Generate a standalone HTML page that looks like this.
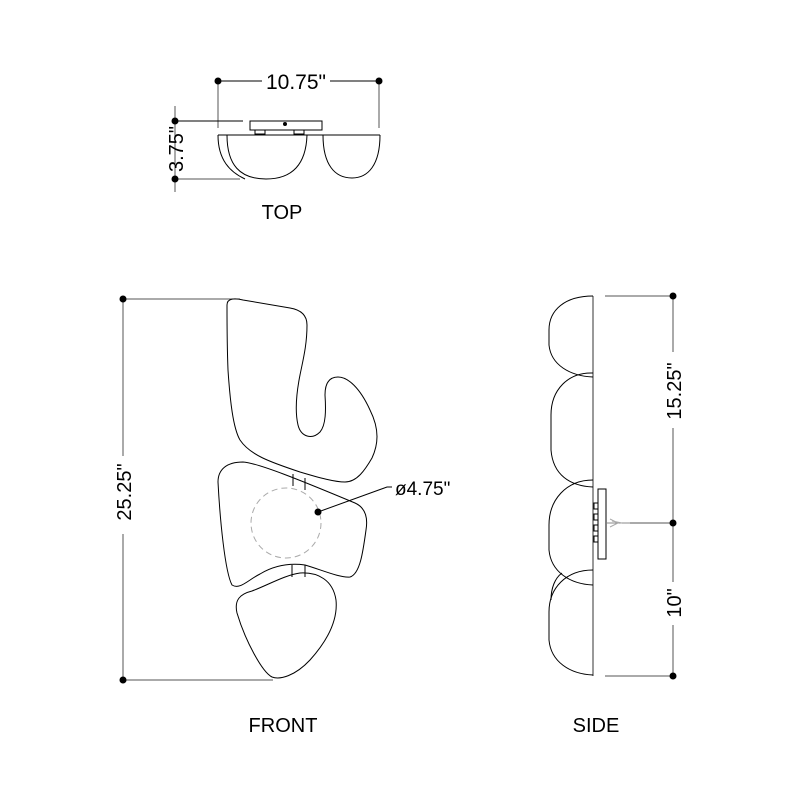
<!DOCTYPE html>
<html><head><meta charset="utf-8"><style>
html,body{margin:0;padding:0;background:#fff;}
svg{display:block;}
text{font-family:"Liberation Sans",sans-serif;fill:#000;}
</style></head><body>
<svg width="800" height="800" viewBox="0 0 800 800" xmlns="http://www.w3.org/2000/svg">
<g fill="none" stroke="#000" stroke-width="1">
<!-- TOP view -->
<line x1="218" y1="81" x2="262" y2="81"/><line x1="330" y1="81" x2="380" y2="81"/>
<line x1="218" y1="81" x2="218" y2="128" stroke="#555"/><line x1="379" y1="81" x2="379" y2="128" stroke="#555"/>
<line x1="175" y1="106" x2="175" y2="192" stroke="#555"/>
<line x1="175" y1="121" x2="243" y2="121"/><line x1="175" y1="179" x2="240" y2="179" stroke="#555"/>
<rect x="250" y="121" width="72" height="9"/>
<rect x="255" y="130" width="10" height="4"/><rect x="294" y="130" width="10" height="4"/>
<path d="M218 135 L380 135"/>
<path d="M218 135 C218 160 230 172 245 179"/>
<path d="M227 135 C227 165 240 179 266 179 C292 179 306 165 307 135"/>
<path d="M323 135 C323 165 335 178 352 178 C368 178 380 165 380 135"/>
<!-- FRONT dims -->
<line x1="123" y1="299" x2="123" y2="456" stroke="#555"/><line x1="123" y1="534" x2="123" y2="680" stroke="#555"/>
<line x1="123" y1="299" x2="240" y2="299" stroke="#555"/><line x1="123" y1="680" x2="273" y2="680" stroke="#555"/>
<!-- FRONT shapes -->
<path d="M227 305 C227 298 235 298 243 300 L290 308 C302 310 307 316 307 325 C307 345 303 360 300 375 C296 395 295 412 298 425 C301 437 312 440 320 432 C326 425 326 410 325 395 C325 382 330 377 338 377 C348 377 360 388 370 410 C380 430 378 445 372 458 C365 470 357 482 345 482 C335 482 320 478 300 472 C270 462 250 455 240 440 C233 428 230 400 228 370 C227 345 227 320 227 305 Z"/>
<path d="M218 482 C218 470 226 462 243 462 C258 463 300 480 355 503 C366 508 368 518 366 530 C363 552 360 574 350 577 C340 578 322 570 305 565 C290 563 275 565 260 574 C248 580 240 590 232 585 C225 572 220 520 218 482 Z"/>
<path d="M237 613 C234 600 240 594 252 591 C268 585 285 575 300 573 C318 572 333 580 336 600 C338 620 328 640 310 660 C295 676 280 680 272 677 C262 672 245 640 237 613 Z"/>
<path d="M293 474 L293 486 M305 478 L305 490" />
<path d="M292 565 L292 577 M305 565 L305 577" />
<circle cx="286" cy="523" r="35" stroke="#aaa" stroke-dasharray="6 4"/>
<path d="M318 512 L387 487 L392 487"/>
<!-- SIDE -->
<line x1="593" y1="296" x2="593" y2="676" stroke="#333"/>
<path d="M593 296 C565 296 549 310 549 330 L549 345 C551 365 570 376 593 377"/>
<path d="M593 373 C568 372 551 390 551 415 L551 450 C553 475 570 486 593 487"/>
<path d="M593 480 C566 480 549 500 549 525 L549 550 C551 572 570 584 593 585"/>
<path d="M593 570 C566 570 549 588 549 612 L549 640 C551 662 570 674 593 675"/>
<path d="M562 573 C555 578 551 588 551 600"/>
<rect x="598" y="489" width="8" height="70"/>
<rect x="594" y="503" width="4" height="6"/><rect x="594" y="514" width="4" height="6"/><rect x="594" y="525" width="4" height="6"/><rect x="594" y="536" width="4" height="6"/>
<path d="M607 523 L630 523" stroke="#888"/>
<path d="M610 519 L618 523 L610 527 M612 521 L622 523" stroke="#aaa"/>
<line x1="605" y1="296" x2="673" y2="296" stroke="#555"/>
<line x1="605" y1="676" x2="673" y2="676" stroke="#555"/>
<line x1="630" y1="523" x2="673" y2="523" stroke="#555"/>
<line x1="673" y1="296" x2="673" y2="352" stroke="#555"/><line x1="673" y1="428" x2="673" y2="582" stroke="#555"/><line x1="673" y1="625" x2="673" y2="676" stroke="#555"/>
</g>
<g fill="#000">
<circle cx="218" cy="81" r="3.5"/><circle cx="379" cy="81" r="3.5"/>
<circle cx="175" cy="121" r="3.5"/><circle cx="175" cy="179" r="3.5"/>
<circle cx="285" cy="124" r="2"/>
<circle cx="123" cy="299" r="3.5"/><circle cx="123" cy="680" r="3.5"/>
<circle cx="318" cy="512" r="3.5"/>
<circle cx="673" cy="296" r="3.5"/><circle cx="673" cy="523" r="3.5"/><circle cx="673" cy="676" r="3.5"/>
</g>
<text x="296" y="89" font-size="21" text-anchor="middle">10.75"</text>
<text transform="translate(183,149) rotate(-90)" font-size="20" text-anchor="middle">3.75"</text>
<text x="282" y="219" font-size="20" text-anchor="middle">TOP</text>
<text transform="translate(131,492) rotate(-90)" font-size="20" text-anchor="middle">25.25"</text>
<text x="395" y="495" font-size="19">ø4.75"</text>
<text transform="translate(681,391) rotate(-90)" font-size="20" text-anchor="middle">15.25"</text>
<text transform="translate(681,603) rotate(-90)" font-size="20" text-anchor="middle">10"</text>
<text x="283" y="732" font-size="20" text-anchor="middle">FRONT</text>
<text x="596" y="732" font-size="20" text-anchor="middle">SIDE</text>
</svg>
</body></html>
